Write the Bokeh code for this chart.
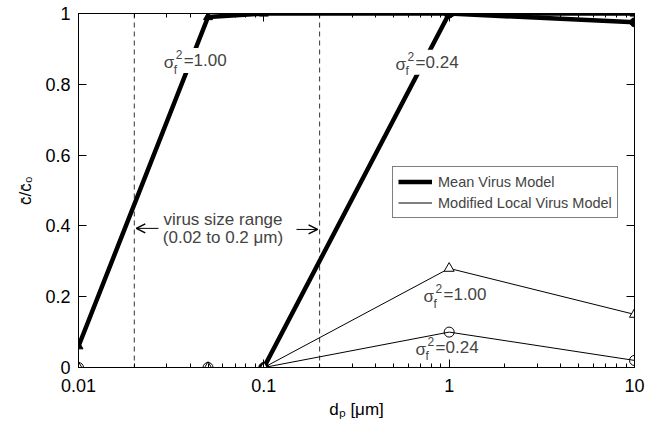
from bokeh.plotting import figure
from bokeh.models import (Span, Label, Arrow, OpenHead, Legend, LegendItem,
                          LinearAxis, LogAxis, FixedTicker, Range1d)
from bokeh.embed import file_html
from bokeh.resources import INLINE

# ---- data ----
dp = [0.01, 0.05, 0.1, 1, 10]
mean_100 = [0.06, 0.99, 1.0, 1.0, 1.0]
dp_mean_024 = [0.1, 1, 10]
mean_024 = [0.0, 1.0, 0.975]
local_100 = [0.0, 0.0, 0.0, 0.28, 0.15]
local_024 = [0.0, 0.0, 0.0, 0.10, 0.02]
virus_range = [0.02, 0.2]
x_ticks = [0.01, 0.1, 1, 10]
x_tick_labels = ["0.01", "0.1", "1", "10"]
y_ticks = [0, 0.2, 0.4, 0.6, 0.8, 1.0]
y_tick_labels = ["0", "0.2", "0.4", "0.6", "0.8", "1"]

FONT = "Liberation Sans"
TICK_FS = "18px"

p = figure(width=661, height=424, x_axis_type="log",
           x_range=Range1d(0.01, 10), y_range=Range1d(0, 1),
           output_backend="svg", toolbar_location=None,
           min_border_left=78, min_border_right=27, min_border_top=13, min_border_bottom=57)
p.xgrid.visible = False
p.ygrid.visible = False
p.outline_line_color = "black"
p.outline_line_width = 1
p.background_fill_color = "white"
p.border_fill_color = "white"

minor = [m * 10.0 ** e for e in range(-2, 1) for m in range(2, 10)]

# bottom axis
xa = p.xaxis[0]
xa.ticker = FixedTicker(ticks=x_ticks, minor_ticks=minor)
xa.major_label_overrides = {t: l for t, l in zip(x_ticks, x_tick_labels)}
# left axis
ya = p.yaxis[0]
ya.ticker = FixedTicker(ticks=y_ticks)
ya.major_label_overrides = {t: l for t, l in zip(y_ticks, y_tick_labels)}

# mirror axes
top = LogAxis(ticker=FixedTicker(ticks=x_ticks, minor_ticks=minor))
right = LinearAxis(ticker=FixedTicker(ticks=y_ticks))
p.add_layout(top, "above")
p.add_layout(right, "right")

for ax in [xa, ya, top, right]:
    ax.major_tick_in = 8
    ax.major_tick_out = 0
    ax.minor_tick_in = 4
    ax.minor_tick_out = 0
    ax.axis_line_color = "black"
    ax.major_tick_line_color = "black"
    ax.minor_tick_line_color = "black"
    ax.major_label_text_font = FONT
    ax.major_label_text_font_size = TICK_FS
    ax.major_label_text_color = "black"
for ax in [top, right]:
    ax.major_label_text_color = None
    ax.major_label_standoff = 0
for ax in [ya, right]:
    ax.minor_tick_line_color = None
xa.major_label_standoff = 11
ya.major_label_standoff = 8

xa.axis_label = "d\u209a [\u03bcm]"
ya.axis_label = "c\u0304/c\u0304\u2080"
for ax in [xa, ya]:
    ax.axis_label_text_font = FONT
    ax.axis_label_text_font_size = "17px"
    ax.axis_label_text_font_style = "normal"
    ax.axis_label_text_color = "black"
xa.axis_label_standoff = 5
ya.axis_label_standoff = 7

# virus size range
for v in virus_range:
    p.add_layout(Span(location=v, dimension="height", line_color="black",
                      line_width=1, line_dash="5 4", line_alpha=0.8))

# lines
r_mean = p.line(dp, mean_100, line_color="black", line_width=4.5)
p.line(dp_mean_024, mean_024, line_color="black", line_width=4.5)
r_local = p.line(dp, local_100, line_color="black", line_width=1)
p.line(dp, local_024, line_color="black", line_width=1)

# markers
p.scatter(dp, mean_100, marker="triangle", size=9, fill_color="black", line_color="black")
p.scatter(dp_mean_024, mean_024, marker="circle", size=9, fill_color="black", line_color="black")
p.scatter(dp, local_100, marker="triangle", size=10, fill_color="white", line_color="black", line_width=1)
p.scatter(dp, local_024, marker="circle", size=10, fill_color=None, line_color="black", line_width=1)

# sigma labels
def sigma_label(x, y, val, bg=True):
    if bg:
        p.add_layout(Label(x=x, y=y, text="\u03c3  =" + val, text_font=FONT, text_font_size="17px",
                           text_color="white", background_fill_color="white",
                           text_baseline="middle", text_align="left", x_offset=-2, padding=3))
    p.add_layout(Label(x=x, y=y, text="\u03c3", text_font=FONT, text_font_size="17px",
                       text_baseline="middle", text_align="left", y_offset=-2))
    p.add_layout(Label(x=x, y=y, text="f", text_font=FONT, text_font_size="12px",
                       text_baseline="middle", text_align="left", x_offset=10, y_offset=-9))
    p.add_layout(Label(x=x, y=y, text="2", text_font=FONT, text_font_size="12px",
                       text_baseline="middle", text_align="left", x_offset=12, y_offset=6))
    p.add_layout(Label(x=x, y=y, text="=" + val, text_font=FONT, text_font_size="17px",
                       text_baseline="middle", text_align="left", x_offset=20))

sigma_label(0.0288, 0.867, "1.00")
sigma_label(0.514, 0.862, "0.24")
sigma_label(0.727, 0.206, "1.00", bg=False)
sigma_label(0.659, 0.0565, "0.24", bg=False)

# virus size range annotation
p.add_layout(Label(x=0.0602, y=0.418, text="virus size range", text_font=FONT,
                   text_font_size="17px", text_align="center", text_baseline="middle"))
p.add_layout(Label(x=0.0602, y=0.367, text="(0.02 to 0.2 \u03bcm)", text_font=FONT,
                   text_font_size="17px", text_align="center", text_baseline="middle"))
p.add_layout(Arrow(x_start=0.027, y_start=0.393, x_end=0.0205, y_end=0.393,
                   line_width=1, end=OpenHead(size=9, line_width=1.5)))
p.add_layout(Arrow(x_start=0.150, y_start=0.39, x_end=0.195, y_end=0.39,
                   line_width=1, end=OpenHead(size=9, line_width=1.5)))

legend = Legend(items=[LegendItem(label="Mean Virus Model", renderers=[r_mean]),
                       LegendItem(label="Modified Local Virus Model", renderers=[r_local])],
                location=(314, 149), border_line_color="black", border_line_width=1,
                label_text_font=FONT, label_text_font_size="14.5px",
                glyph_width=34, glyph_height=19, label_height=19, spacing=2,
                padding=5, margin=0, label_standoff=6, background_fill_alpha=1)
p.add_layout(legend)

open("out.html", "w").write(file_html(p, INLINE))
